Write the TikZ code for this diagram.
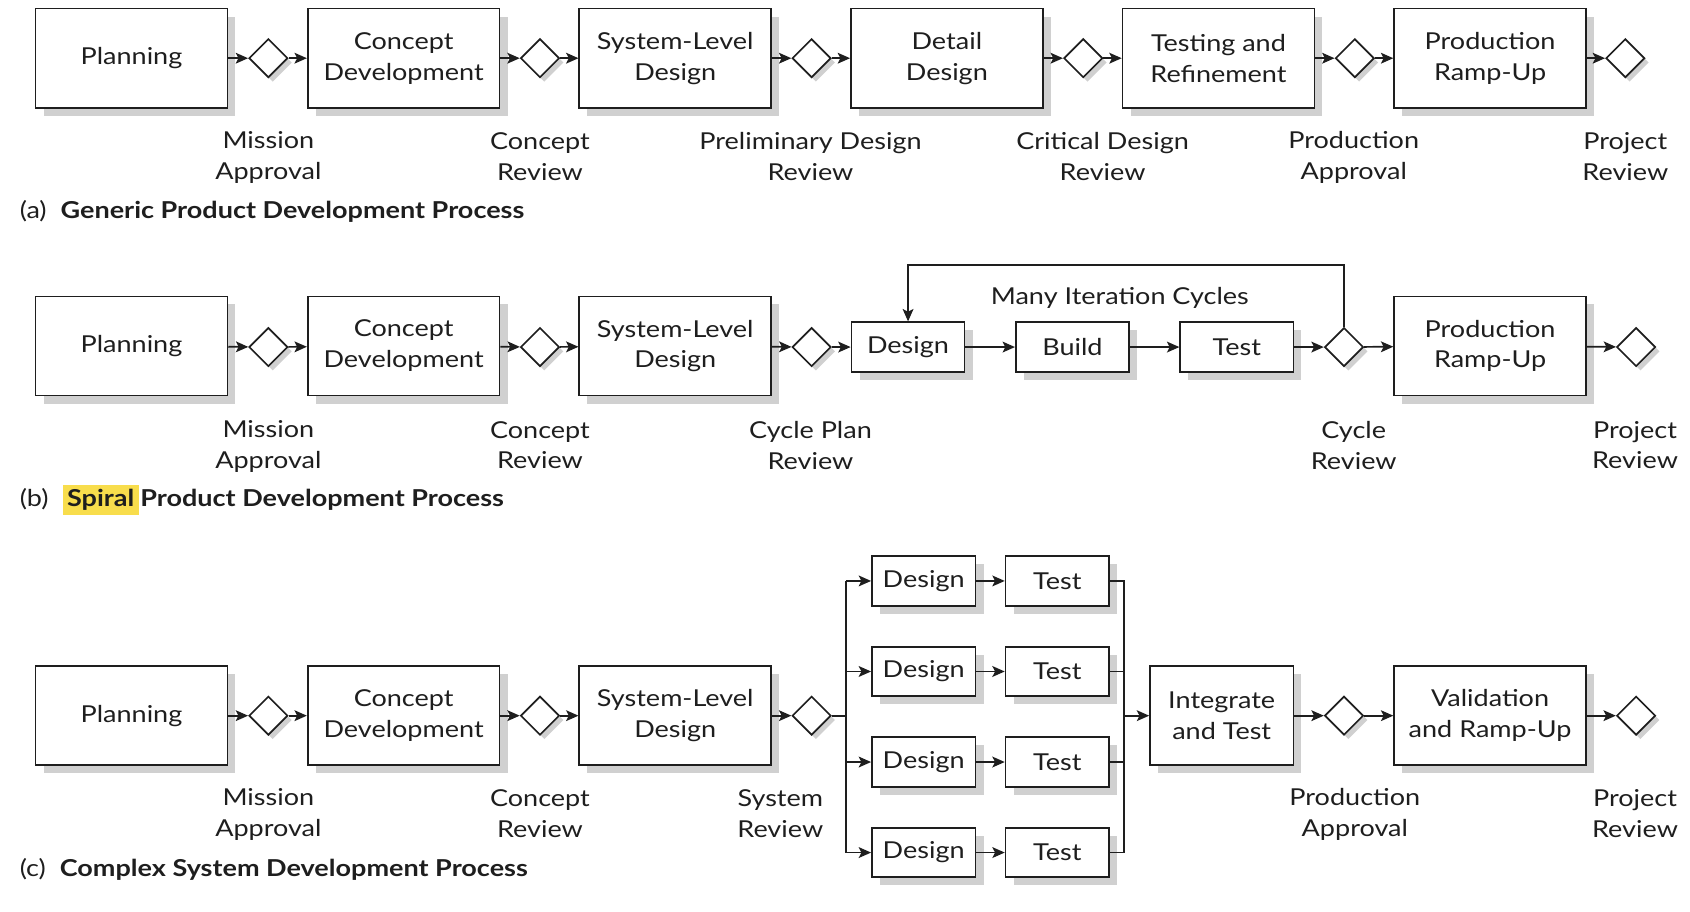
\documentclass[tikz,border=0pt]{standalone}
\usepackage{fontspec}
\setmainfont{Lato}[FakeStretch=1.16]
\usepackage{tikz}
\usetikzlibrary{shapes.geometric,shadows,arrows.meta}
\definecolor{ink}{RGB}{30,30,30}
\definecolor{shade}{RGB}{208,208,208}
\definecolor{hilite}{RGB}{248,221,76}
\setlength{\fboxsep}{2.4pt}

\begin{document}
\begin{tikzpicture}[
		x=0.02cm, y=-0.02cm,
		every node/.style={font=\fontsize{12.3}{16.3}\selectfont, text=ink},
		stage/.style={rectangle, draw=ink, fill=white, line width=0.9pt, align=center,
			minimum width=3.56cm, minimum height=1.84cm,
			drop shadow={shadow xshift=1.5mm, shadow yshift=-1.5mm, fill=shade, opacity=1}},
		task/.style={stage, minimum width=2.1cm, minimum height=0.92cm},
		gate/.style={diamond, draw=ink, fill=white, line width=0.9pt, inner sep=0pt, minimum size=0.72cm,
			drop shadow={shadow xshift=0.8mm, shadow yshift=-0.8mm, fill=shade, opacity=1}},
		review/.style={align=center},
		headline/.style={anchor=west, inner sep=0pt},
		arr/.style={draw=ink, line width=0.9pt, -{Stealth[length=2.3mm, width=2mm, inset=0.5mm]}},
		wire/.style={draw=ink, line width=0.9pt}
	]
  \useasboundingbox (0,0) rectangle (1568,846);

  % (a) generic process
  \node (plan_a) [stage] at (122,54) {Planning};
  \node (con_a) [stage] at (374.5,54) {Concept\\Development};
  \node (sys_a) [stage] at (626.5,54) {System-Level\\Design};
  \node (det_a) [stage] at (878.5,54) {Detail\\Design};
  \node (tst_a) [stage] at (1130.5,54) {Testing and\\Refinement};
  \node (ramp_a) [stage] at (1382.5,54) {Production\\Ramp-Up};
  \node (g1_a) [gate] at (249,54) {};
  \node (g2_a) [gate] at (501,54) {};
  \node (g3_a) [gate] at (753,54) {};
  \node (g4_a) [gate] at (1005,54) {};
  \node (g5_a) [gate] at (1257,54) {};
  \node (g6_a) [gate] at (1508,54) {};
  \node (rv1_a) [review] at (249,146) {Mission\\Approval};
  \node (rv2_a) [review] at (501,145) {Concept\\Review};
  \node (rv3_a) [review] at (752,145) {Preliminary Design\\Review};
  \node (rv4_a) [review] at (1023,145) {Critical Design\\Review};
  \node (rv5_a) [review] at (1256,146) {Production\\Approval};
  \node (rv6_a) [review] at (1508,145) {Project\\Review};
  \node (cap_a) [headline] at (18,196) {(a)\hspace{2.6mm}\textbf{Generic Product Development Process}};
  \path (plan_a) edge[arr] (g1_a) (g1_a) edge[arr] (con_a) (con_a) edge[arr] (g2_a) (g2_a) edge[arr] (sys_a)
    (sys_a) edge[arr] (g3_a) (g3_a) edge[arr] (det_a) (det_a) edge[arr] (g4_a) (g4_a) edge[arr] (tst_a)
    (tst_a) edge[arr] (g5_a) (g5_a) edge[arr] (ramp_a) (ramp_a) edge[arr] (g6_a);

  % (b) spiral process
  \node (plan_b) [stage] at (122,321) {Planning};
  \node (con_b) [stage] at (374.5,321) {Concept\\Development};
  \node (sys_b) [stage] at (626.5,321) {System-Level\\Design};
  \node (des_b) [task] at (842.5,322) {Design};
  \node (bld_b) [task] at (995,322) {Build};
  \node (tst_b) [task] at (1147.5,322) {Test};
  \node (ramp_b) [stage] at (1382.5,321) {Production\\Ramp-Up};
  \node (g1_b) [gate] at (249,322) {};
  \node (g2_b) [gate] at (501,322) {};
  \node (g3_b) [gate] at (753,322) {};
  \node (g4_b) [gate] at (1247,322) {};
  \node (g5_b) [gate] at (1518,322) {};
  \node (iter_b) at (1039,276) {Many Iteration Cycles};
  \coordinate (back) at (842.5,246);
  \node (rv1_b) [review] at (249,414) {Mission\\Approval};
  \node (rv2_b) [review] at (501,413) {Concept\\Review};
  \node (rv3_b) [review] at (752,413) {Cycle Plan\\Review};
  \node (rv4_b) [review] at (1256,413) {Cycle\\Review};
  \node (rv5_b) [review] at (1517,413) {Project\\Review};
  \node (cap_b) [headline] at (18,464) {(b)\hspace{2.6mm}\colorbox{hilite}{\textbf{Spiral}}\hspace{0.3mm}\textbf{Product Development Process}};
  \path (plan_b) edge[arr] (g1_b) (g1_b) edge[arr] (con_b) (con_b) edge[arr] (g2_b) (g2_b) edge[arr] (sys_b)
    (sys_b) edge[arr] (g3_b) (g3_b) edge[arr] (des_b) (des_b) edge[arr] (bld_b) (bld_b) edge[arr] (tst_b)
    (tst_b) edge[arr] (g4_b) (g4_b) edge[arr] (ramp_b) (ramp_b) edge[arr] (g5_b);
  \draw[arr] (g4_b.north) |- (back) -- (des_b.north);

  % (c) complex system process
  \node (plan_c) [stage] at (122,664) {Planning};
  \node (con_c) [stage] at (374.5,664) {Concept\\Development};
  \node (sys_c) [stage] at (626.5,664) {System-Level\\Design};
  \node (d1_c) [task, minimum width=1.92cm] at (857,539) {Design};
  \node (d2_c) [task, minimum width=1.92cm] at (857,623) {Design};
  \node (d3_c) [task, minimum width=1.92cm] at (857,707) {Design};
  \node (d4_c) [task, minimum width=1.92cm] at (857,791) {Design};
  \node (t1_c) [task, minimum width=1.92cm] at (981,539) {Test};
  \node (t2_c) [task, minimum width=1.92cm] at (981,623) {Test};
  \node (t3_c) [task, minimum width=1.92cm] at (981,707) {Test};
  \node (t4_c) [task, minimum width=1.92cm] at (981,791) {Test};
  \node (int_c) [stage, minimum width=2.66cm] at (1133.5,664) {Integrate\\and Test};
  \node (val_c) [stage] at (1382.5,664) {Validation\\and Ramp-Up};
  \node (g1_c) [gate] at (249,664) {};
  \node (g2_c) [gate] at (501,664) {};
  \node (g3_c) [gate] at (753,664) {};
  \node (g4_c) [gate] at (1247,664) {};
  \node (g5_c) [gate] at (1518,664) {};
  \coordinate (fork) at (785,664);
  \coordinate (join) at (1043,664);
  \node (rv1_c) [review] at (249,756) {Mission\\Approval};
  \node (rv2_c) [review] at (501,755) {Concept\\Review};
  \node (rv3_c) [review] at (724,755) {System\\Review};
  \node (rv4_c) [review] at (1257,756) {Production\\Approval};
  \node (rv5_c) [review] at (1517,755) {Project\\Review};
  \node (cap_c) [headline] at (18,807) {(c)\hspace{2.6mm}\textbf{Complex System Development Process}};
  \path (plan_c) edge[arr] (g1_c) (g1_c) edge[arr] (con_c) (con_c) edge[arr] (g2_c) (g2_c) edge[arr] (sys_c)
    (sys_c) edge[arr] (g3_c) (d1_c) edge[arr] (t1_c) (d2_c) edge[arr] (t2_c) (d3_c) edge[arr] (t3_c) (d4_c) edge[arr] (t4_c)
    (int_c) edge[arr] (g4_c) (g4_c) edge[arr] (val_c) (val_c) edge[arr] (g5_c);
  \draw[wire] (g3_c) -- (fork);
  \draw[wire] (fork |- d1_c) -- (fork |- d4_c);
  \path (fork |- d1_c) edge[arr] (d1_c) (fork |- d2_c) edge[arr] (d2_c) (fork |- d3_c) edge[arr] (d3_c) (fork |- d4_c) edge[arr] (d4_c);
  \draw[wire] (t1_c.east) -- (t1_c.east -| join) -- (t4_c.east -| join) -- (t4_c.east);
  \draw[wire] (t2_c.east) -- (t2_c.east -| join);
  \draw[wire] (t3_c.east) -- (t3_c.east -| join);
  \draw[arr] (join) -- (int_c);
\end{tikzpicture}
\end{document}
